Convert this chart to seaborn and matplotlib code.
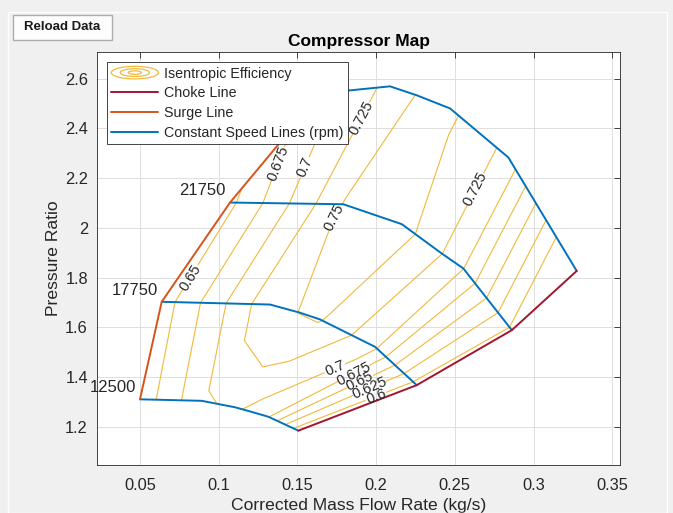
import numpy as np
import pandas as pd
import matplotlib
matplotlib.use("Agg")
import matplotlib.pyplot as plt
from matplotlib.patches import Ellipse, Rectangle
from matplotlib.legend_handler import HandlerBase
from matplotlib.lines import Line2D
import seaborn as sns

# ---------------- data ----------------
speed_labels = ["12500", "17750", "21750", ""]   # top speed line label hidden by legend
# corrected mass flow (kg/s) along each constant-speed line, surge -> choke
flow_12500 = [0.050, 0.0892, 0.1104, 0.1212, 0.1315, 0.1506]
flow_17750 = [0.0638, 0.1326, 0.1517, 0.1644, 0.1993, 0.2258]
flow_21750 = [0.1072, 0.1792, 0.2163, 0.2417, 0.2554, 0.2862]
flow_top = [0.1650, 0.2088, 0.2258, 0.2470, 0.2840, 0.3274]
# pressure ratio
pr_12500 = [1.311, 1.305, 1.279, 1.260, 1.241, 1.185]
pr_17750 = [1.703, 1.692, 1.659, 1.632, 1.522, 1.368]
pr_21750 = [2.102, 2.095, 2.015, 1.897, 1.837, 1.589]
pr_top = [2.541, 2.569, 2.533, 2.480, 2.283, 1.827]
# isentropic efficiency
eff_12500 = [0.634, 0.695, 0.706, 0.692, 0.677, 0.585]
eff_17750 = [0.637, 0.743, 0.7505, 0.752, 0.705, 0.590]
eff_21750 = [0.644, 0.751, 0.7625, 0.7255, 0.7005, 0.595]
eff_top = [0.690, 0.733, 0.751, 0.7555, 0.7174, 0.550]
eff_levels = [0.6, 0.625, 0.65, 0.675, 0.7, 0.725, 0.75]

# contour label anchor positions (flow, PR)
label_levels = [0.65, 0.675, 0.7, 0.725, 0.75, 0.725, 0.7, 0.675, 0.65, 0.625, 0.6]
label_pos = [(0.0818, 1.802), (0.1275, 2.284), (0.1472, 2.264), (0.1898, 2.444),
             (0.1726, 2.043), (0.2584, 2.171), (0.1707, 1.481), (0.1821, 1.457),
             (0.1866, 1.424), (0.1930, 1.396), (0.1974, 1.364)]

# ---------------- styling ----------------
BLUE = "#0072BD"
RED = "#A2142F"
ORANGE = "#D95319"
YELLOW = "#F2B93B"
TXT = "#262626"

sns.set_theme(style="white")
plt.rcParams["font.family"] = ["Liberation Sans", "DejaVu Sans"]

W, H = 673, 513
fig = plt.figure(figsize=(W / 100, H / 100), dpi=100)
fig.patch.set_facecolor("#f0f0f0")

# panel border and button
fig.add_artist(Rectangle((8 / W, 0), (W - 14) / W, 1 - 12 / H, transform=fig.transFigure,
                         fill=False, edgecolor="#ffffff", lw=1.0))
fig.add_artist(Rectangle((13 / W, 1 - 40 / H), 99 / W, 25 / H, transform=fig.transFigure,
                         facecolor="#fdfdfd", edgecolor="#adadad", lw=1.0))
fig.text(62 / W, 1 - 27.5 / H, "Reload Data", ha="center", va="center",
         fontsize=9.5, fontweight="bold", color="#1a1a1a")

ax = fig.add_axes([97 / W, 1 - 465 / H, (620 - 97) / W, (465 - 52) / H])
ax.set_facecolor("white")

X = np.array([flow_12500, flow_17750, flow_21750, flow_top])
Y = np.array([pr_12500, pr_17750, pr_21750, pr_top])
Z = np.array([eff_12500, eff_17750, eff_21750, eff_top])

fmt = lambda v: f"{v:g}"
for lev in eff_levels:
    cs = ax.contour(X, Y, Z, levels=[lev], colors=YELLOW, linewidths=0.8, zorder=2)
    pos = [p for l, p in zip(label_levels, label_pos) if abs(l - lev) < 1e-9]
    if pos:
        cs.clabel(manual=pos, inline=True, inline_spacing=3, fmt=fmt,
                  fontsize=10.5, colors=TXT)

# speed lines
rows = []
for i, lab in enumerate(speed_labels):
    for f, p in zip(X[i], Y[i]):
        rows.append({"speed": i, "flow": f, "pr": p})
df_speed = pd.DataFrame(rows)
sns.lineplot(data=df_speed, x="flow", y="pr", units="speed", estimator=None, sort=False,
             color=BLUE, lw=1.4, ax=ax, legend=False, zorder=3)
# choke and surge
sns.lineplot(x=X[:, -1], y=Y[:, -1], sort=False, color=RED, lw=1.4, ax=ax, zorder=3)
sns.lineplot(x=X[:, 0], y=Y[:, 0], sort=False, color=ORANGE, lw=1.4, ax=ax, zorder=3)

for i, lab in enumerate(speed_labels):
    if lab:
        ax.annotate(lab, (X[i, 0], Y[i, 0]), xytext=(-3, 3), textcoords="offset points",
                    ha="right", va="bottom", fontsize=12, color=TXT, zorder=4)

ax.set_xlim(0.0227, 0.3549)
ax.set_ylim(1.047, 2.707)
ax.set_xticks([0.05, 0.1, 0.15, 0.2, 0.25, 0.3, 0.35])
ax.set_xticklabels(["0.05", "0.1", "0.15", "0.2", "0.25", "0.3", "0.35"])
ax.set_yticks([1.2, 1.4, 1.6, 1.8, 2.0, 2.2, 2.4, 2.6])
ax.set_yticklabels(["1.2", "1.4", "1.6", "1.8", "2", "2.2", "2.4", "2.6"])
ax.tick_params(direction="in", top=True, right=True, length=4, width=0.6,
               labelsize=11.8, colors=TXT)
ax.tick_params(axis="x", pad=9)
ax.tick_params(axis="y", pad=6.5)
ax.grid(True, color="#dedede", lw=0.7)
for s in ax.spines.values():
    s.set_color(TXT)
    s.set_linewidth(0.6)
ax.set_xlabel("Corrected Mass Flow Rate (kg/s)", fontsize=12.6, color=TXT, labelpad=4)
ax.set_ylabel("Pressure Ratio", fontsize=12.6, color=TXT, labelpad=3)
ax.set_title("Compressor Map", fontsize=12.5, fontweight="bold", color="black", pad=4)


class HandlerEllipses(HandlerBase):
    def create_artists(self, legend, orig_handle, xdescent, ydescent, width, height,
                       fontsize, trans):
        cx = width / 2 - xdescent
        cy = height / 2 - ydescent
        arts = []
        for s in (1.0, 0.62, 0.28):
            arts.append(Ellipse((cx, cy), width * s, height * 1.25 * s, fill=False,
                                edgecolor=YELLOW, lw=0.9, transform=trans))
        return arts


eff_proxy = Line2D([], [], color=YELLOW)
handles = [eff_proxy,
           Line2D([], [], color=RED, lw=1.4),
           Line2D([], [], color=ORANGE, lw=1.4),
           Line2D([], [], color=BLUE, lw=1.4)]
labels = ["Isentropic Efficiency", "Choke Line", "Surge Line", "Constant Speed Lines (rpm)"]
leg = ax.legend(handles, labels, loc="upper left", bbox_to_anchor=(0.019, 0.975),
                handler_map={eff_proxy: HandlerEllipses()}, fontsize=10.3,
                handlelength=3.3, handletextpad=0.4, labelspacing=0.4,
                borderpad=0.3, borderaxespad=0.0, frameon=True, fancybox=False)
leg.get_frame().set_edgecolor(TXT)
leg.get_frame().set_linewidth(0.6)
leg.get_frame().set_facecolor("white")
leg.get_frame().set_alpha(1.0)
leg.set_zorder(10)

fig.savefig("out.png", dpi=100, facecolor=fig.get_facecolor())
